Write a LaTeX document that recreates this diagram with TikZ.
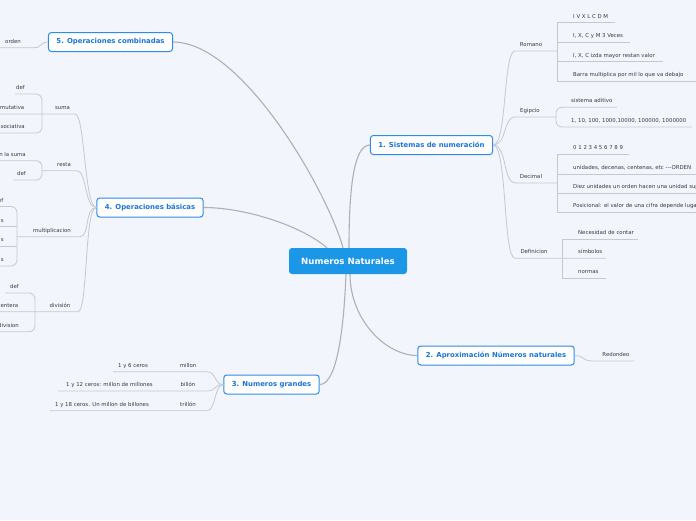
\documentclass[tikz,border=0pt]{standalone}
\usepackage{fontspec}
\setmainfont{DejaVu Sans}
\usepackage{tikz}
\usetikzlibrary{positioning}
\definecolor{nnbg}{HTML}{F3F5FD}
\definecolor{nnblue}{HTML}{1B74D8}
\definecolor{nnedge}{HTML}{2E8BEA}
\definecolor{nnroot}{HTML}{1C97E8}
\definecolor{nntrunk}{HTML}{B0B0B4}
\definecolor{nntwig}{HTML}{C6C8D0}
\definecolor{nntext}{HTML}{3A3A3A}
\tikzset{
  root/.style={fill=nnroot, rounded corners=3pt, text=white, font=\fontsize{8.6}{10}\selectfont\bfseries, minimum width=118pt, minimum height=26pt, inner sep=0pt},
  branch/.style={draw=nnedge, line width=1pt, fill=white, rounded corners=3pt, text=nnblue, font=\fontsize{6.9}{8}\selectfont\bfseries, minimum height=19pt, inner xsep=8pt},
  leaf/.style={inner sep=0pt, text=nntext, font=\fontsize{5.4}{6}\selectfont},
  trunk/.style={draw=nntrunk, line width=1.1pt},
  twig/.style={draw=nntwig, line width=0.8pt}
}

\begin{document}
\begin{tikzpicture}[x=1pt, y=-1pt]
  \clip (0,0) rectangle (696,520);
  \fill[nnbg] (0,0) rectangle (696,520);

  \node[root] (root) at (348,261) {Numeros Naturales};
  \node[branch] (sis) at (431.5,145) {1. Sistemas de numeración};
  \node[branch] (apr) at (496,355.5) {2. Aproximación Números naturales};
  \node[branch] (gra) at (271.5,384.5) {3. Numeros grandes};
  \node[branch] (bas) at (150,207.5) {4. Operaciones básicas};
  \node[branch] (com) at (110.5,42) {5. Operaciones combinadas};

  \draw[trunk] ([xshift=1pt]root.north) .. controls +(0,-60) and +(-16,0) .. (sis.west);
  \draw[trunk] ([xshift=2pt]root.south) .. controls +(0,45) and +(-32,0) .. (apr.west);
  \draw[trunk] ([xshift=-2pt]root.south) .. controls +(-2,50) and +(18,0) .. (gra.east);
  \draw[trunk] ([xshift=-21pt]root.north) .. controls +(-27,-23) and +(40,0) .. (bas.east);
  \draw[trunk] ([xshift=-5pt]root.north) .. controls +(-15,-55) and +(70,0) .. (com.east);

  \coordinate (rom) at (515,51);
  \coordinate (egi) at (515,117);
  \coordinate (dec) at (515,183);
  \coordinate (dfn) at (515,258.3);
  \draw[twig] (sis.east) .. controls +(14,0) and +(-12,0) .. (rom) -- (557,51);
  \draw[twig] (sis.east) .. controls +(14,0) and +(-12,0) .. (egi) -- (556,117);
  \draw[twig] (sis.east) .. controls +(14,0) and +(-12,0) .. (dec) -- (557,183);
  \draw[twig] (sis.east) .. controls +(14,0) and +(-12,0) .. (dfn) -- (606,258.3);
  \node[leaf, anchor=base] (romano) at (531,46.5) {Romano};
  \node[leaf, anchor=base] (egipcio) at (530,112.5) {Egipcio};
  \node[leaf, anchor=base] (decimal) at (531,178.5) {Decimal};
  \node[leaf, anchor=base] (definicion) at (534,253.8) {Definicion};

  \draw[twig] (615,22.7) -| (557,81) -- (696,81);
  \draw[twig] (557,42) -- (630,42);
  \draw[twig] (557,61.5) -- (663,61.5);
  \node[leaf, anchor=base west] (rom1) at (573,18.2) {I V X L C D M};
  \node[leaf, anchor=base west] (rom2) at (573,37.5) {I, X, C y M 3 Veces};
  \node[leaf, anchor=base west] (rom3) at (573,57) {I, X, C izda mayor restan valor};
  \node[leaf, anchor=base west] (rom4) at (573,76.5) {Barra multiplica por mil lo que va debajo};

  \draw[twig, rounded corners=6pt] (617,107.3) -| (556,127) -- (692,127);
  \node[leaf, anchor=base west] (egi1) at (571,102.8) {sistema aditivo};
  \node[leaf, anchor=base west] (egi2) at (571,122.5) {1, 10, 100, 1000,10000, 100000, 1000000};

  \draw[twig] (629,154) -| (557,212) -- (696,212);
  \draw[twig] (557,174) -- (696,174);
  \draw[twig] (557,193) -- (696,193);
  \node[leaf, anchor=base west] (dec1) at (573,149.5) {0 1 2 3 4 5 6 7 8 9};
  \node[leaf, anchor=base west] (dec2) at (573,169.5) {unidades, decenas, centenas, etc {-}{-}{-}ORDEN};
  \node[leaf, anchor=base west] (dec3) at (573,188.5) {Diez unidades un orden hacen una unidad superior};
  \node[leaf, anchor=base west] (dec4) at (573,207.5) {Posicional: el valor de una cifra depende lugar};

  \draw[twig] (638,239.3) -| (562,278.3) -- (606,278.3);
  \node[leaf, anchor=base west] (dfn1) at (578,234.8) {Necesidad de contar};
  \node[leaf, anchor=base west] (dfn2) at (578,253.8) {símbolos};
  \node[leaf, anchor=base west] (dfn3) at (578,273.8) {normas};

  \coordinate (red) at (592,361);
  \draw[twig] (apr.east) .. controls +(9,0) and +(-9,0) .. (red) -- (634,361);
  \node[leaf, anchor=base] (redondeo) at (616,356.5) {Redondeo};

  \coordinate (mil) at (207,371.7);
  \coordinate (bil) at (207,391);
  \coordinate (tri) at (207,410.7);
  \draw[twig] (gra.west) .. controls +(-9,0) and +(9,0) .. (mil) -- (113,371.7);
  \draw[twig] (gra.west) .. controls +(-9,0) and +(9,0) .. (bil) -- (58,391);
  \draw[twig] (gra.west) .. controls +(-9,0) and +(9,0) .. (tri) -- (50,410.7);
  \node[leaf, anchor=base] (millon) at (188,367.2) {millon};
  \node[leaf, anchor=base] (billon) at (188,386.5) {billón};
  \node[leaf, anchor=base] (trillon) at (188,406.2) {trillón};
  \node[leaf, anchor=base] (mil1) at (133,367.2) {1 y 6 ceros};
  \node[leaf, anchor=base] (bil1) at (109.5,386.5) {1 y 12 ceros: millon de millones};
  \node[leaf, anchor=base] (tri1) at (102,406.2) {1 y 18 ceros. Un millon de billones};

  \coordinate (sum) at (75,114);
  \coordinate (res) at (77,170.7);
  \coordinate (mul) at (80,236.7);
  \coordinate (div) at (78,311.7);
  \draw[twig] (bas.west) .. controls +(-12,0) and +(10,0) .. (sum) -- (0,114);
  \draw[twig] (bas.west) .. controls +(-12,0) and +(10,0) .. (res) -- (42,170.7);
  \draw[twig] (bas.west) .. controls +(-12,0) and +(10,0) .. (mul) -- (17,236.7);
  \draw[twig] (bas.west) .. controls +(-12,0) and +(10,0) .. (div) -- (0,311.7);
  \node[leaf, anchor=base] (suma) at (62.5,109.5) {suma};
  \node[leaf, anchor=base] (resta) at (64,166.2) {resta};
  \node[leaf, anchor=base] (multi) at (52,232.2) {multiplicacion};
  \node[leaf, anchor=base] (divi) at (60,307.2) {división};

  \draw[twig, rounded corners=6pt] (15,94) -| (42,133) -- (0,133);
  \node[leaf, anchor=base] (sum1) at (20.5,89.5) {def};
  \node[leaf, anchor=base east] (sum2) at (24.5,109.5) {conmutativa};
  \node[leaf, anchor=base east] (sum3) at (25,128.5) {asociativa};

  \draw[twig, rounded corners=6pt] (0,160.7) -| (42,180) -- (13,180);
  \node[leaf, anchor=base east] (res1) at (26,156.2) {n la suma};
  \node[leaf, anchor=base] (res2) at (21.5,175.5) {def};

  \draw[twig, rounded corners=6pt] (0,206.5) -| (17,266) -- (0,266);
  \draw[twig] (0,226.5) -- (17,226.5);
  \draw[twig] (0,246) -- (17,246);
  \node[leaf, anchor=base east] (mul1) at (3.5,202) {def};
  \node[leaf, anchor=base east] (mul2) at (4,222) {s};
  \node[leaf, anchor=base east] (mul3) at (4,241.5) {s};
  \node[leaf, anchor=base east] (mul4) at (4,261.5) {s};

  \draw[twig, rounded corners=6pt] (5,293) -| (35,331.7) -- (0,331.7);
  \node[leaf, anchor=base] (div1) at (14.5,288.5) {def};
  \node[leaf, anchor=base east] (div2) at (18.5,307.2) {entera};
  \node[leaf, anchor=base east] (div3) at (19,327.2) {division};

  \coordinate (ord) at (34,47.7);
  \draw[twig] (com.west) .. controls +(-8,0) and +(8,0) .. (ord) -- (0,47.7);
  \node[leaf, anchor=base] (orden) at (13,43.2) {orden};
\end{tikzpicture}
\end{document}
